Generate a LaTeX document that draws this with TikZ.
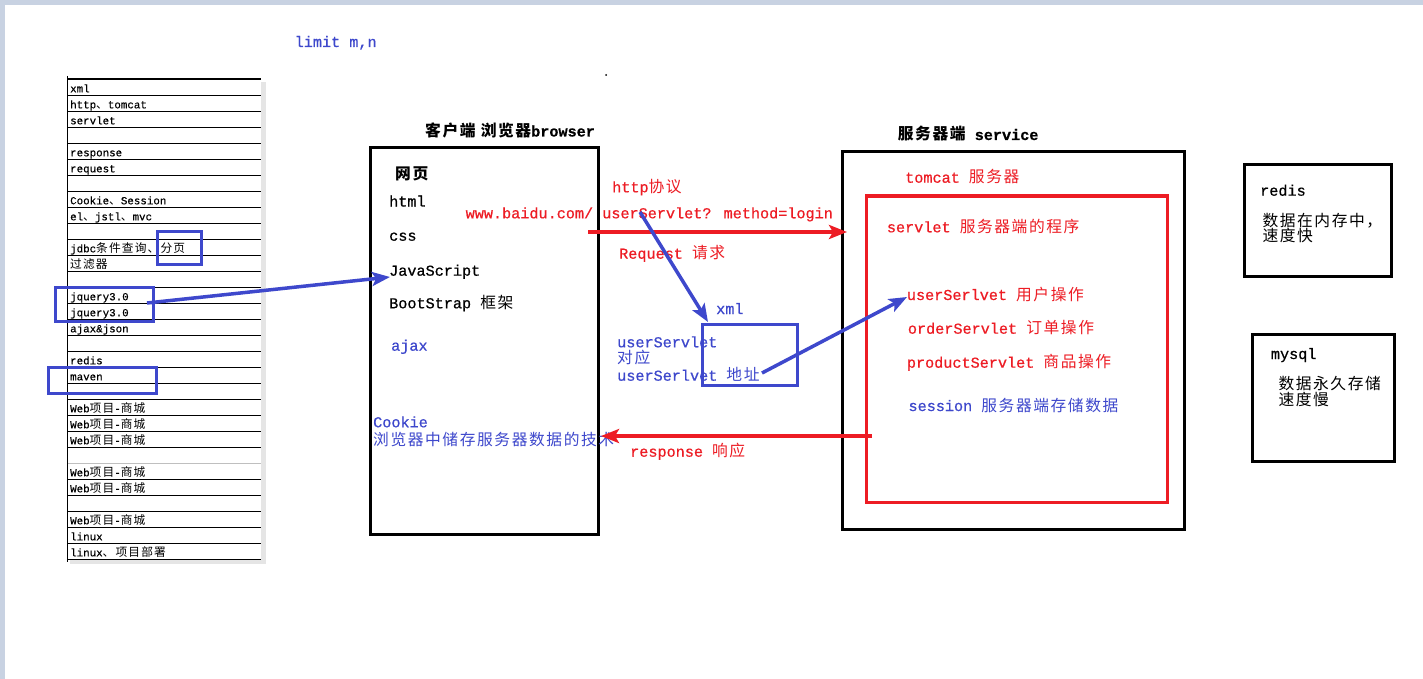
\documentclass[tikz,border=0pt]{standalone}
\usepackage{fontspec}
\setmainfont{Liberation Mono}[Scale=0.867, FakeBold=0.6]
\newfontfamily\cellfont{Liberation Mono}[Scale=0.833, FakeBold=0.4]
\newfontfamily\cjk{Noto Sans CJK SC}[Scale=0.9, LetterSpace=10]
\usetikzlibrary{arrows.meta}

\definecolor{penblue}{RGB}{62,72,204}
\definecolor{penred}{RGB}{237,28,36}
\definecolor{framegray}{RGB}{200,210,226}

\newcommand{\zh}[1]{{\cjk #1}}
\newcommand{\bigtext}{\fontsize{17.5}{20}\selectfont}
\newcommand{\smalltext}{\fontsize{13}{15}\selectfont\cellfont}

\begin{document}
\begin{tikzpicture}[x=1pt,y=-1pt,
    lbl/.style={anchor=base west, inner sep=0pt, font=\bigtext},
    cell/.style={anchor=base west, inner sep=0pt, font=\smalltext},
    blackbox/.style={draw, line width=3pt, inner sep=0pt},
    redbox/.style={draw=penred, line width=3pt, inner sep=0pt},
    bluebox/.style={draw=penblue, line width=3pt, inner sep=0pt},
    pointer/.style={line width=3.5pt, -{Stealth[length=18pt,width=14pt,inset=4pt]}}]
    \useasboundingbox (0,0) rectangle (1423,679);
    \fill[framegray] (0,0) rectangle (1423,679);
    \fill[white] (5,5) rectangle (1423,679);

    % course list on the left
    \fill[black!10] (261,82) rectangle (266,564);
    \fill[black!10] (70,559) rectangle (266,564);
    \foreach \i in {1,...,23,25,26,...,30}
        \draw[line width=1pt] (67,79.3+16*\i) -- (261,79.3+16*\i);
    \draw[black!25, line width=1pt] (67,463.3) -- (261,463.3);
    \draw[line width=1.6pt] (67,79.3) -- (261,79.3);
    \draw[line width=1pt] (67.5,76) -- (67.5,562);
    \foreach \t [count=\r] in {xml, http\zh{、}tomcat, servlet, {}, response, request, {},
            Cookie\zh{、}Session, el\zh{、}jstl\zh{、}mvc, {}, jdbc\zh{条件查询、分页}, \zh{过滤器}, {},
            jquery3.0, jquery3.0, ajax\&json, {}, redis, maven, {},
            Web\zh{项目}-\zh{商城}, Web\zh{项目}-\zh{商城}, Web\zh{项目}-\zh{商城}, {},
            Web\zh{项目}-\zh{商城}, Web\zh{项目}-\zh{商城}, {},
            Web\zh{项目}-\zh{商城}, linux, linux\zh{、项目部署}}
        \node[cell] (row\r) at (70,76.3+16*\r) {\t};

    \node[bluebox, minimum width=44, minimum height=33] (pagebox) at (179,247.5) {};
    \node[bluebox, minimum width=98, minimum height=34] (jqbox) at (104,304) {};
    \node[bluebox, minimum width=108, minimum height=26] (mavenbox) at (102,380) {};

    \node[lbl, text=penblue] (limit) at (294.5,47) {limit m,n};
    \fill (606,75) circle (1);

    % browser side
    \node[lbl, font=\bigtext\bfseries] (clienttitle) at (425,136.5) {\zh{客户端 浏览器}browser};
    \node[blackbox, minimum width=228, minimum height=386] (client) at (484,341) {};
    \begin{scope}[every node/.style={lbl}]
        \node[font=\bigtext\bfseries] (webpage) at (395,180) {\zh{网页}};
        \node (html) at (389,206.5) {html};
        \node (css) at (389,240.7) {css};
        \node (js) at (389,275.7) {JavaScript};
        \node (bootstrap) at (389,308.3) {BootStrap \zh{框架}};
    \end{scope}
    \begin{scope}[every node/.style={lbl, text=penblue}]
        \node (ajax) at (391,350.7) {ajax};
        \node (cookie) at (373,427.3) {Cookie};
        \node (cookienote) at (373,445) {\zh{浏览器中储存服务器数据的技术}};
    \end{scope}

    % request / response
    \begin{scope}[every node/.style={lbl, text=penred}]
        \node (httpproto) at (612,192.3) {http\zh{协议}};
        \node (url) at (465.5,218.3) {www.baidu.com/ userServlet? method=login};
        \node (reqlbl) at (619,258.7) {Request \zh{请求}};
        \node (resplbl) at (630,456.7) {response \zh{响应}};
    \end{scope}
    \node[bluebox, minimum width=95, minimum height=61] (xmlbox) at (749.5,354.5) {};
    \begin{scope}[every node/.style={lbl, text=penblue}]
        \node (xmllbl) at (716,314) {xml};
        \node (map1) at (617,347.3) {userServlet};
        \node (map2) at (617,363.5) {\zh{对应}};
        \node (map3) at (617,380.7) {userSerlvet \zh{地址}};
    \end{scope}

    % server side
    \node[lbl, font=\bigtext\bfseries] (servertitle) at (897.7,140) {\zh{服务器端} service};
    \node[blackbox, minimum width=342, minimum height=377] (server) at (1013,340.5) {};
    \node[redbox, minimum width=301, minimum height=306] (tomcatbox) at (1016.5,349) {};
    \begin{scope}[every node/.style={lbl, text=penred}]
        \node (tomcat) at (905,182.7) {tomcat \zh{服务器}};
        \node (servletlbl) at (886.7,232.3) {servlet \zh{服务器端的程序}};
        \node (usersv) at (906.7,300) {userSerlvet \zh{用户操作}};
        \node (ordersv) at (907.7,333.7) {orderServlet \zh{订单操作}};
        \node (productsv) at (906.7,367.7) {productServlet \zh{商品操作}};
    \end{scope}
    \node[lbl, text=penblue] (sessionlbl) at (908.3,411) {session \zh{服务器端存储数据}};

    % data stores
    \node[blackbox, minimum width=147, minimum height=111] (redisbox) at (1317.5,220.5) {};
    \node[blackbox, minimum width=142, minimum height=127] (mysqlbox) at (1323,397.5) {};
    \begin{scope}[every node/.style={lbl}]
        \node (redis) at (1260,195.7) {redis};
        \node (redisnote1) at (1262.3,226) {\zh{数据在内存中，}};
        \node (redisnote2) at (1262.3,241.7) {\zh{速度快}};
        \node (mysql) at (1270.7,359) {mysql};
        \node (mysqlnote1) at (1278.3,389) {\zh{数据永久存储}};
        \node (mysqlnote2) at (1278.3,405) {\zh{速度慢}};
    \end{scope}

    \coordinate (jqout) at (147,303);
    \coordinate (jsin) at (390,277);
    \coordinate (reqout) at (588,232);
    \coordinate (reqin) at (847,232);
    \coordinate (respout) at (872,436);
    \coordinate (respin) at (601,436);
    \coordinate (urlout) at (640,212);
    \coordinate (xmlin) at (708,322);
    \coordinate (addrout) at (762,373);
    \coordinate (userin) at (907,297);

    \path (jqout) edge[pointer, penblue] (jsin);
    \path (reqout) edge[pointer, penred] (reqin);
    \path (respout) edge[pointer, penred] (respin);
    \path (urlout) edge[pointer, penblue] (xmlin);
    \path (addrout) edge[pointer, penblue] (userin);
\end{tikzpicture}
\end{document}
